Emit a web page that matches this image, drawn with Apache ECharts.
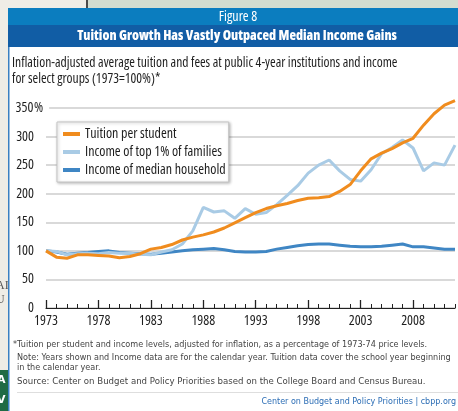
<!DOCTYPE html>
<html>
<head>
<meta charset="utf-8">
<script src="https://cdn.jsdelivr.net/npm/echarts@6/dist/echarts.min.js"></script>
<style>
  html, body { margin: 0; padding: 0; background: #efede6; }
  #chart { width: 458px; height: 411px; }
</style>
</head>
<body>
<div id="chart"></div>
<script>
// data (1973 = 100%)
const years = ['1973','1974','1975','1976','1977','1978','1979','1980','1981','1982',
  '1983','1984','1985','1986','1987','1988','1989','1990','1991','1992',
  '1993','1994','1995','1996','1997','1998','1999','2000','2001','2002',
  '2003','2004','2005','2006','2007','2008','2009','2010','2011','2012'];

const tuition = [100, 89, 87, 93, 93, 92, 91, 88, 90, 95,
  103, 106, 111, 119, 124, 128, 133, 140, 149, 158,
  167, 174, 179, 183, 188, 192, 193, 195, 204, 216,
  240, 261, 271, 279, 289, 297, 320, 340, 355, 363];

const top1 = [100, 99, 93, 95, 96, 95, 97, 96, 96, 94,
  93, 98, 102, 112, 135, 176, 168, 170, 157, 174,
  164, 167, 181, 197, 214, 236, 250, 259, 240, 225,
  222, 242, 270, 281, 294, 280, 240, 254, 250, 285];

const median = [100, 98, 94, 96, 97, 99, 100, 97, 96, 95,
  94, 96, 98, 100, 102, 103, 104, 102, 99, 98,
  98, 99, 103, 106, 109, 111, 112, 112, 110, 108,
  107, 107, 108, 110, 112, 107, 107, 105, 103, 103];

const seriesNames = ['Tuition per student', 'Income of top 1% of families', 'Income of median household'];
const seriesColors = ['#f08c1e', '#a9cbe5', '#3f86c4'];

// Open Sans has a condensed width, picked through the font shorthand
const cond = '"Open Sans"';
const small = '"DejaVu Sans", Verdana, sans-serif';

const chart = echarts.init(document.getElementById('chart'));

chart.setOption({
  backgroundColor: '#efede6',
  animation: false,
  grid: { left: 46, right: 3, top: 108, bottom: 103 },
  legend: {
    orient: 'vertical',
    left: 57,
    top: 122,
    padding: [5, 3, 5, 6],
    itemGap: 4,
    itemWidth: 17,
    itemHeight: 4,
    icon: 'rect',
    backgroundColor: '#fff',
    borderColor: '#c4c4c4',
    borderWidth: 1,
    shadowBlur: 3,
    shadowColor: 'rgba(0,0,0,0.25)',
    shadowOffsetX: 1,
    shadowOffsetY: 1,
    textStyle: { fontFamily: cond, fontStyle: 'condensed', fontSize: 14, color: '#1e1e1e', lineHeight: 14 },
    data: seriesNames
  },
  xAxis: [{
    type: 'category',
    data: years,
    boundaryGap: false,
    axisLine: { lineStyle: { color: '#222', width: 1.2 } },
    axisTick: { inside: true, interval: 0, length: 4, lineStyle: { color: '#222' } },
    axisLabel: { interval: 4, margin: 6, fontFamily: cond, fontStyle: 'condensed', fontSize: 14, color: '#1e1e1e' }
  }, {
    type: 'category',
    data: years,
    boundaryGap: false,
    position: 'bottom',
    axisLine: { show: false },
    axisTick: { inside: true, interval: 4, length: 8, lineStyle: { color: '#222', width: 1.3 } },
    axisLabel: { show: false }
  }],
  yAxis: {
    type: 'value',
    min: 0,
    max: 350,
    interval: 50,
    axisLine: { show: false },
    axisTick: { show: false },
    splitLine: { lineStyle: { color: '#cdcdcd', width: 1.5 } },
    axisLabel: {
      margin: 31,
      align: 'left',
      formatter: v => v === 350 ? '{n|350}{p|%}' : '{n|' + v + '}',
      rich: {
        n: { fontFamily: cond, fontStyle: 'condensed', fontSize: 14, color: '#1e1e1e', width: 19, align: 'right' },
        p: { fontFamily: cond, fontStyle: 'condensed', fontSize: 14, color: '#1e1e1e', backgroundColor: '#fff', padding: [0, 6, 0, 0] }
      }
    }
  },
  series: [
    { name: seriesNames[2], type: 'line', data: median, symbol: 'none', z: 3,
      lineStyle: { color: seriesColors[2], width: 3 }, itemStyle: { color: seriesColors[2] } },
    { name: seriesNames[1], type: 'line', data: top1, symbol: 'none', z: 4,
      lineStyle: { color: seriesColors[1], width: 3 }, itemStyle: { color: seriesColors[1] } },
    { name: seriesNames[0], type: 'line', data: tuition, symbol: 'none', z: 5, clip: false,
      lineStyle: { color: seriesColors[0], width: 3 }, itemStyle: { color: seriesColors[0] } }
  ],
  graphic: [
    // backdrop bits around the card
    { type: 'rect', z: -10, shape: { x: 88, y: 0, width: 370, height: 8 }, style: { fill: '#d3ddd0' } },
    { type: 'rect', z: -10, shape: { x: 86, y: 0, width: 2, height: 8 }, style: { fill: '#4a4a4a' } },
    { type: 'rect', z: -10, shape: { x: 0, y: 370, width: 8, height: 41 }, style: { fill: '#1f6b44' } },
    { type: 'text', z: -9, x: -3, y: 380, style: { text: 'A', fill: '#fff', font: 'bold 11px ' + small, verticalAlign: 'middle' } },
    { type: 'text', z: -9, x: -3, y: 400, style: { text: 'V', fill: '#fff', font: 'bold 11px ' + small, verticalAlign: 'middle' } },
    { type: 'text', z: -9, x: -4, y: 286, style: { text: 'AI', fill: '#555', font: '12px serif', verticalAlign: 'middle' } },
    { type: 'text', z: -9, x: -4, y: 300, style: { text: 'U', fill: '#555', font: '12px serif', verticalAlign: 'middle' } },
    // card
    { type: 'rect', z: -10, shape: { x: 8, y: 8, width: 450, height: 403 }, style: { fill: '#fff' } },
    { type: 'rect', z: -9, shape: { x: 8, y: 8, width: 450, height: 17 }, style: { fill: '#0b7dbf' } },
    { type: 'rect', z: -9, shape: { x: 8, y: 25, width: 450, height: 22 }, style: { fill: '#115da5' } },
    { type: 'rect', z: -9, shape: { x: 8, y: 47, width: 1.5, height: 364 }, style: { fill: '#3a80c2' } },
    { type: 'text', x: 238, y: 17, style: { text: 'Figure 8', fill: '#fff', font: 'condensed 14px ' + cond, align: 'center', verticalAlign: 'middle' } },
    { type: 'text', x: 237, y: 36, style: { text: 'Tuition Growth Has Vastly Outpaced Median Income Gains', fill: '#fff', font: 'condensed 800 13.5px ' + cond, align: 'center', verticalAlign: 'middle' } },
    { type: 'text', x: 12, y: 63, style: { text: 'Inflation-adjusted average tuition and fees at public 4-year institutions and income', fill: '#1e1e1e', font: 'condensed 13.6px ' + cond, verticalAlign: 'middle' } },
    { type: 'text', x: 12, y: 79, style: { text: 'for select groups (1973=100%)*', fill: '#1e1e1e', font: 'condensed 13.6px ' + cond, verticalAlign: 'middle' } },
    // notes
    { type: 'text', x: 13, y: 345, style: { text: '*Tuition per student and income levels, adjusted for inflation, as a percentage of 1973-74 price levels.', fill: '#444', font: '8.1px ' + small, verticalAlign: 'middle' } },
    { type: 'text', x: 17, y: 358, style: { text: 'Note: Years shown and Income data are for the calendar year. Tuition data cover the school year beginning', fill: '#444', font: '8.1px ' + small, verticalAlign: 'middle' } },
    { type: 'text', x: 17, y: 368, style: { text: 'in the calendar year.', fill: '#444', font: '8.1px ' + small, verticalAlign: 'middle' } },
    { type: 'text', x: 17, y: 382, style: { text: 'Source: Center on Budget and Policy Priorities based on the College Board and Census Bureau.', fill: '#444', font: '8.6px ' + small, verticalAlign: 'middle' } },
    { type: 'rect', shape: { x: 17, y: 392, width: 441, height: 1 }, style: { fill: '#dedede' } },
    { type: 'text', x: 456, y: 402, style: { text: 'Center on Budget and Policy Priorities | cbpp.org', fill: '#2b6db5', font: '8px ' + small, align: 'right', verticalAlign: 'middle' } }
  ]
});
</script>
</body>
</html>
